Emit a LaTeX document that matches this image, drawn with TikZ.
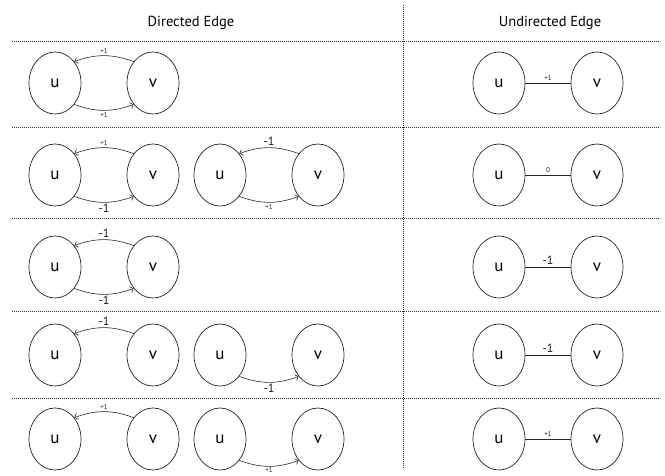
\documentclass[tikz,border=0pt]{standalone}
\usepackage{fontspec}
\setmainfont{PT Sans}
\usetikzlibrary{arrows.meta,shapes.geometric}
\begin{document}
\begin{tikzpicture}[x=1pt,y=-1pt,
  vert/.style={ellipse, draw=black!85, line width=0.7pt, minimum width=52pt, minimum height=62pt, inner sep=0pt, font=\fontsize{17}{17}\selectfont},
  dirE/.style={draw=black!85, line width=0.6pt, -{Straight Barb[length=3pt,width=6pt]}, bend right=20},
  undE/.style={draw=black!85, line width=0.7pt},
  sepline/.style={draw=black!80, line width=0.9pt, dash pattern=on 0.9pt off 1.1pt},
  smalllab/.style={font=\fontsize{7}{7}\selectfont, inner sep=2pt, text=black!85},
  biglab/.style={font=\fontsize{12}{12}\selectfont, inner sep=1.5pt, text=black!90},
  head/.style={font=\fontsize{14.5}{14.5}\selectfont, anchor=base}]
\useasboundingbox (0,0) rectangle (665,475);

% headers
\node[head] (h1) at (191,26.5) {Directed Edge};
\node[head] (h2) at (550,26.5) {Undirected Edge};

% separators
\coordinate (vt) at (403,5);
\coordinate (vb) at (403,469);
\draw[sepline] (vt) -- (vb);
\foreach \yy/\nm in {41/a,127/b,218/c,311/d,398/e}{
  \coordinate (L\nm) at (12,\yy);
  \coordinate (R\nm) at (660,\yy);
  \draw[sepline] (L\nm) -- (R\nm);
}

% ---- row 1 ----
\node[vert] (u1) at (55,83) {u};
\node[vert] (v1) at (153,83) {v};
\draw[dirE] (v1.132) to node[smalllab, midway, above] {+1} (u1.48);
\draw[dirE] (u1.-48) to node[smalllab, midway, below] {+1} (v1.-132);
\node[vert] (ru1) at (499,83) {u};
\node[vert] (rv1) at (597,83) {v};
\draw[undE] (ru1) -- node[smalllab, above] {+1} (rv1);

% ---- row 2 ----
\node[vert] (u2) at (55,175) {u};
\node[vert] (v2) at (153,175) {v};
\draw[dirE] (v2.132) to node[smalllab, midway, above] {+1} (u2.48);
\draw[dirE] (u2.-48) to node[biglab, midway, below] {-1} (v2.-132);
\node[vert] (u2b) at (220,175) {u};
\node[vert] (v2b) at (318,175) {v};
\draw[dirE] (v2b.132) to node[biglab, midway, above] {-1} (u2b.48);
\draw[dirE] (u2b.-48) to node[smalllab, midway, below] {+1} (v2b.-132);
\node[vert] (ru2) at (499,175) {u};
\node[vert] (rv2) at (597,175) {v};
\draw[undE] (ru2) -- node[smalllab, above] {0} (rv2);

% ---- row 3 ----
\node[vert] (u3) at (55,267) {u};
\node[vert] (v3) at (153,267) {v};
\draw[dirE] (v3.132) to node[biglab, midway, above] {-1} (u3.48);
\draw[dirE] (u3.-48) to node[biglab, midway, below] {-1} (v3.-132);
\node[vert] (ru3) at (499,267) {u};
\node[vert] (rv3) at (597,267) {v};
\draw[undE] (ru3) -- node[biglab, above, inner sep=2.5pt] {-1} (rv3);

% ---- row 4 ----
\node[vert] (u4) at (55,355) {u};
\node[vert] (v4) at (153,355) {v};
\draw[dirE] (v4.132) to node[biglab, midway, above] {-1} (u4.48);
\node[vert] (u4b) at (220,355) {u};
\node[vert] (v4b) at (318,355) {v};
\draw[dirE] (u4b.-48) to node[biglab, midway, below] {-1} (v4b.-132);
\node[vert] (ru4) at (499,355) {u};
\node[vert] (rv4) at (597,355) {v};
\draw[undE] (ru4) -- node[biglab, above, inner sep=2.5pt] {-1} (rv4);

% ---- row 5 ----
\node[vert] (u5) at (55,439) {u};
\node[vert] (v5) at (153,439) {v};
\draw[dirE] (v5.132) to node[smalllab, midway, above] {+1} (u5.48);
\node[vert] (u5b) at (220,439) {u};
\node[vert] (v5b) at (318,439) {v};
\draw[dirE] (u5b.-48) to node[smalllab, midway, below, inner sep=0.6pt] {+1} (v5b.-132);
\node[vert] (ru5) at (499,439) {u};
\node[vert] (rv5) at (597,439) {v};
\draw[undE] (ru5) -- node[smalllab, above] {+1} (rv5);
\end{tikzpicture}
\end{document}
